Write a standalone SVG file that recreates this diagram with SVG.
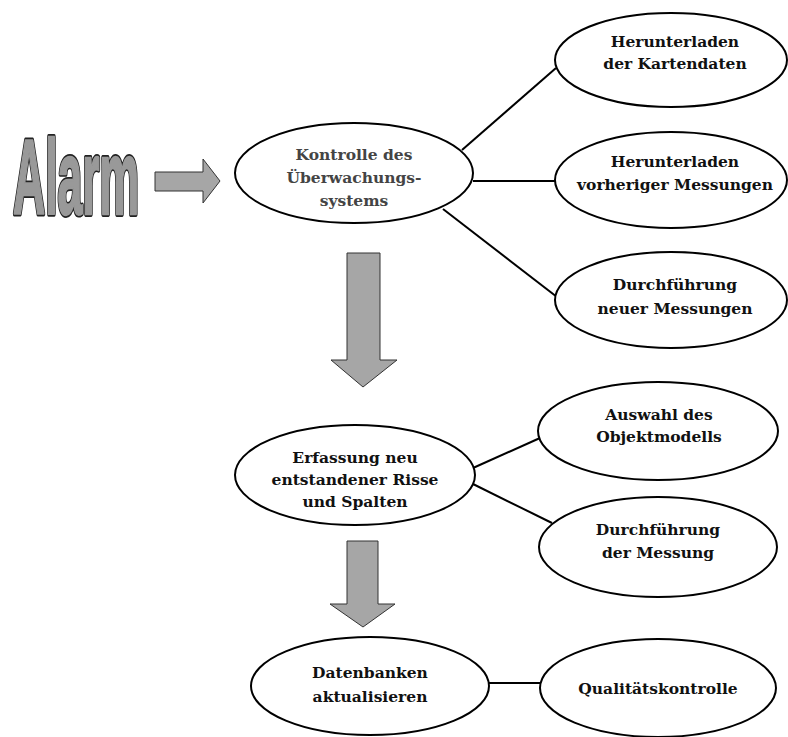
<svg xmlns="http://www.w3.org/2000/svg" width="788" height="737" viewBox="0 0 788 737">
<style>
.node ellipse{fill:#fff;stroke:#000;stroke-width:2}
.lbl{font-family:"DejaVu Serif","Liberation Serif",serif;font-weight:bold;font-size:15.5px;fill:#111;text-anchor:middle}
.gray{fill:#444}
.conn line{stroke:#000;stroke-width:2}
.arrow{fill:#a6a6a6;stroke:#333;stroke-width:1}
.al{font-family:"Liberation Sans",Arial,sans-serif;font-weight:bold;font-size:106px}
</style>
<rect width="788" height="737" fill="#fff"/>
<g id="alarm">
<text class="al" transform="translate(13,214) scale(0.42,1)" fill="#222" stroke="#222" stroke-width="4.5" stroke-linejoin="round" vector-effect="non-scaling-stroke">Alarm</text>
<text class="al" transform="translate(13,214) scale(0.42,1)" fill="#999" stroke="#999" stroke-width="2" stroke-linejoin="round" vector-effect="non-scaling-stroke">Alarm</text>
</g>
<g id="arrows">
<polygon class="arrow" points="155,172 203,172 203,159 220,181 203,203 203,191 155,191"/>
<polygon class="arrow" points="347,253 380,253 380,360 397,360 363,387 331,360 347,360"/>
<polygon class="arrow" points="347,541 378,541 378,604 395,604 363,627 330,604 347,604"/>
</g>
<g class="conn" id="connectors">
<line x1="462" y1="150" x2="556" y2="68"/>
<line x1="473" y1="181" x2="556" y2="181"/>
<line x1="443" y1="209" x2="557" y2="297"/>
<line x1="473" y1="468" x2="540" y2="438"/>
<line x1="473" y1="484" x2="552" y2="523"/>
<line x1="489" y1="683" x2="540" y2="683"/>
</g>
<g class="node" id="kontrolle">
<ellipse cx="354" cy="173" rx="119" ry="50"/>
<text class="lbl gray" x="354" y="160">Kontrolle des</text>
<text class="lbl gray" x="354" y="183">Überwachungs-</text>
<text class="lbl gray" x="354" y="206">systems</text>
</g>
<g class="node" id="kartendaten">
<ellipse cx="671" cy="60" rx="116" ry="47"/>
<text class="lbl" x="675" y="47">Herunterladen</text>
<text class="lbl" x="675" y="69">der Kartendaten</text>
</g>
<g class="node" id="vorherige">
<ellipse cx="671" cy="180" rx="116" ry="48"/>
<text class="lbl" x="675" y="167">Herunterladen</text>
<text class="lbl" x="675" y="190">vorheriger Messungen</text>
</g>
<g class="node" id="neue">
<ellipse cx="671" cy="300" rx="116" ry="48"/>
<text class="lbl" x="675" y="290">Durchführung</text>
<text class="lbl" x="675" y="314">neuer Messungen</text>
</g>
<g class="node" id="erfassung">
<ellipse cx="355" cy="475" rx="120" ry="50"/>
<text class="lbl" x="355" y="463">Erfassung neu</text>
<text class="lbl" x="355" y="485">entstandener Risse</text>
<text class="lbl" x="355" y="507">und Spalten</text>
</g>
<g class="node" id="auswahl">
<ellipse cx="658" cy="431" rx="120" ry="49"/>
<text class="lbl" x="659" y="420">Auswahl des</text>
<text class="lbl" x="659" y="442">Objektmodells</text>
</g>
<g class="node" id="messung">
<ellipse cx="658" cy="547" rx="119" ry="50"/>
<text class="lbl" x="658" y="535">Durchführung</text>
<text class="lbl" x="658" y="558">der Messung</text>
</g>
<g class="node" id="datenbanken">
<ellipse cx="370" cy="686" rx="119" ry="49"/>
<text class="lbl" x="370" y="678">Datenbanken</text>
<text class="lbl" x="370" y="702">aktualisieren</text>
</g>
<g class="node" id="qualitaet">
<ellipse cx="658" cy="688" rx="118" ry="49"/>
<text class="lbl" x="658" y="694">Qualitätskontrolle</text>
</g>
</svg>
